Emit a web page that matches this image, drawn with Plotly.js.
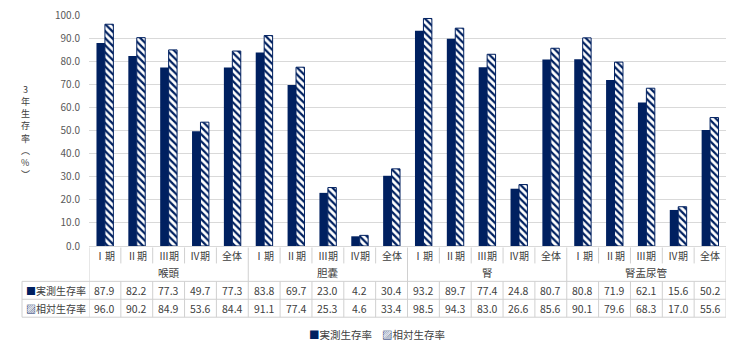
<!DOCTYPE html>
<html>
<head>
<meta charset="utf-8">
<script src="https://cdn.plot.ly/plotly-3.0.1.min.js"></script>
<style>html,body{margin:0;padding:0;background:#fff;}#chart{width:740px;height:353px;}</style>
</head>
<body>
<div id="chart"></div>
<script>
const groups = ['喉頭', '胆嚢', '腎', '腎盂尿管'];
const stages = ['Ⅰ期', 'Ⅱ期', 'Ⅲ期', 'Ⅳ期', '全体'];
const seriesNames = ['実測生存率', '相対生存率'];
const observed = [87.9, 82.2, 77.3, 49.7, 77.3, 83.8, 69.7, 23.0, 4.2, 30.4, 93.2, 89.7, 77.4, 24.8, 80.7, 80.8, 71.9, 62.1, 15.6, 50.2];
const relative = [96.0, 90.2, 84.9, 53.6, 84.4, 91.1, 77.4, 25.3, 4.6, 33.4, 98.5, 94.3, 83.0, 26.6, 85.6, 90.1, 79.6, 68.3, 17.0, 55.6];
const yTitleChars = ['3', '年', '生', '存', '率', '︵', '%', '︶'];

const NAVY = '#002060';
const GRID = '#d9d9d9';
const TXT = '#404040';
const FONT = 'Noto Sans CJK JP, Noto Sans, sans-serif';

// plot area geometry (px)
const W = 740, H = 353;
const L = 89, R = 726, T = 14.5, B = 246.5;
const py = p => (B - p) / (B - T);          // px -> paper y
const px = p => (p - L) / (R - L);          // px -> paper x

const n = observed.length;
const xs = observed.map((_, i) => i);

const traces = [
  {
    type: 'bar', name: seriesNames[0], x: xs, y: observed,
    marker: { color: NAVY, line: { color: NAVY, width: 0 } },
    hoverinfo: 'y'
  },
  {
    type: 'bar', name: seriesNames[1], x: xs, y: relative,
    marker: {
      color: '#ffffff',
      line: { color: NAVY, width: 1 },
      pattern: { shape: '\\', fgcolor: NAVY, bgcolor: '#ffffff', size: 5, solidity: 0.45 }
    },
    hoverinfo: 'y'
  }
];

const annotations = [];
const shapes = [];
const lineStyle = { color: '#d0d0d0', width: 1 };

// stage row + value rows
for (let i = 0; i < n; i++) {
  annotations.push({ xref: 'x', yref: 'paper', x: i, y: py(256.5), text: stages[i % stages.length],
    showarrow: false, font: { family: FONT, size: 10, color: TXT }, xanchor: 'center', yanchor: 'middle' });
  annotations.push({ xref: 'x', yref: 'paper', x: i, y: py(291), text: observed[i].toFixed(1),
    showarrow: false, font: { family: FONT, size: 10.5, color: TXT }, xanchor: 'center', yanchor: 'middle' });
  annotations.push({ xref: 'x', yref: 'paper', x: i, y: py(309), text: relative[i].toFixed(1),
    showarrow: false, font: { family: FONT, size: 10.5, color: TXT }, xanchor: 'center', yanchor: 'middle' });
}
// group row
groups.forEach((g, k) => {
  annotations.push({ xref: 'x', yref: 'paper', x: k * stages.length + (stages.length - 1) / 2, y: py(273), text: g,
    showarrow: false, font: { family: FONT, size: 10.5, color: TXT }, xanchor: 'center', yanchor: 'middle' });
});
// row labels (with series keys)
const keySolid = '<span style="color:' + NAVY + '">■</span>';
const keyHatch = '<span style="color:' + NAVY + '">▨</span>';
annotations.push({ xref: 'paper', yref: 'paper', x: px(24), y: py(291), text: keySolid + seriesNames[0],
  showarrow: false, font: { family: FONT, size: 10, color: TXT }, xanchor: 'left', yanchor: 'middle' });
annotations.push({ xref: 'paper', yref: 'paper', x: px(24), y: py(309), text: keyHatch + seriesNames[1],
  showarrow: false, font: { family: FONT, size: 10, color: TXT }, xanchor: 'left', yanchor: 'middle' });
// bottom legend
annotations.push({ xref: 'paper', yref: 'paper', x: px(307), y: py(335), text: keySolid + seriesNames[0],
  showarrow: false, font: { family: FONT, size: 10.5, color: TXT }, xanchor: 'left', yanchor: 'middle' });
annotations.push({ xref: 'paper', yref: 'paper', x: px(380), y: py(335), text: keyHatch + seriesNames[1],
  showarrow: false, font: { family: FONT, size: 10.5, color: TXT }, xanchor: 'left', yanchor: 'middle' });
// y title (stacked vertically)
yTitleChars.forEach((c, k) => {
  annotations.push({ xref: 'paper', yref: 'paper', x: px(25), y: py(89 + k * 12.3), text: c,
    showarrow: false, font: { family: FONT, size: 9, color: TXT }, xanchor: 'center', yanchor: 'middle',
    borderpad: 0 });
});

// table lines
for (let i = 0; i <= n; i++) {
  const xb = i - 0.5;
  const isGroup = i % stages.length === 0;
  shapes.push({ type: 'line', xref: 'x', yref: 'paper', x0: xb, x1: xb, y0: py(248), y1: isGroup ? py(318) : py(264), line: lineStyle });
  if (!isGroup) shapes.push({ type: 'line', xref: 'x', yref: 'paper', x0: xb, x1: xb, y0: py(282), y1: py(318), line: lineStyle });
}
[282, 300, 318].forEach(yy => {
  shapes.push({ type: 'line', xref: 'paper', yref: 'paper', x0: px(22), x1: 1, y0: py(yy), y1: py(yy), line: lineStyle });
});
shapes.push({ type: 'line', xref: 'paper', yref: 'paper', x0: px(22), x1: px(22), y0: py(282), y1: py(318), line: lineStyle });

const layout = {
  width: W, height: H,
  margin: { l: L, r: W - R, t: T, b: H - B, pad: 0, autoexpand: false },
  paper_bgcolor: '#ffffff', plot_bgcolor: '#ffffff',
  font: { family: FONT, size: 10, color: TXT },
  barmode: 'group', bargap: 0.47, bargroupgap: 0,
  showlegend: false,
  xaxis: { range: [-0.5, n - 0.5], showticklabels: false, showgrid: false, zeroline: false,
    showline: true, linecolor: GRID, linewidth: 1, ticks: '', fixedrange: true },
  yaxis: { range: [0, 100], dtick: 10, tickformat: '.1f', showgrid: true, gridcolor: GRID, gridwidth: 1,
    zeroline: false, showline: false, ticks: '', ticklabelstandoff: 8,
    tickfont: { family: FONT, size: 10, color: '#595959' }, fixedrange: true },
  annotations: annotations,
  shapes: shapes
};

Plotly.newPlot('chart', traces, layout, { displayModeBar: false, staticPlot: true });
</script>
</body>
</html>
